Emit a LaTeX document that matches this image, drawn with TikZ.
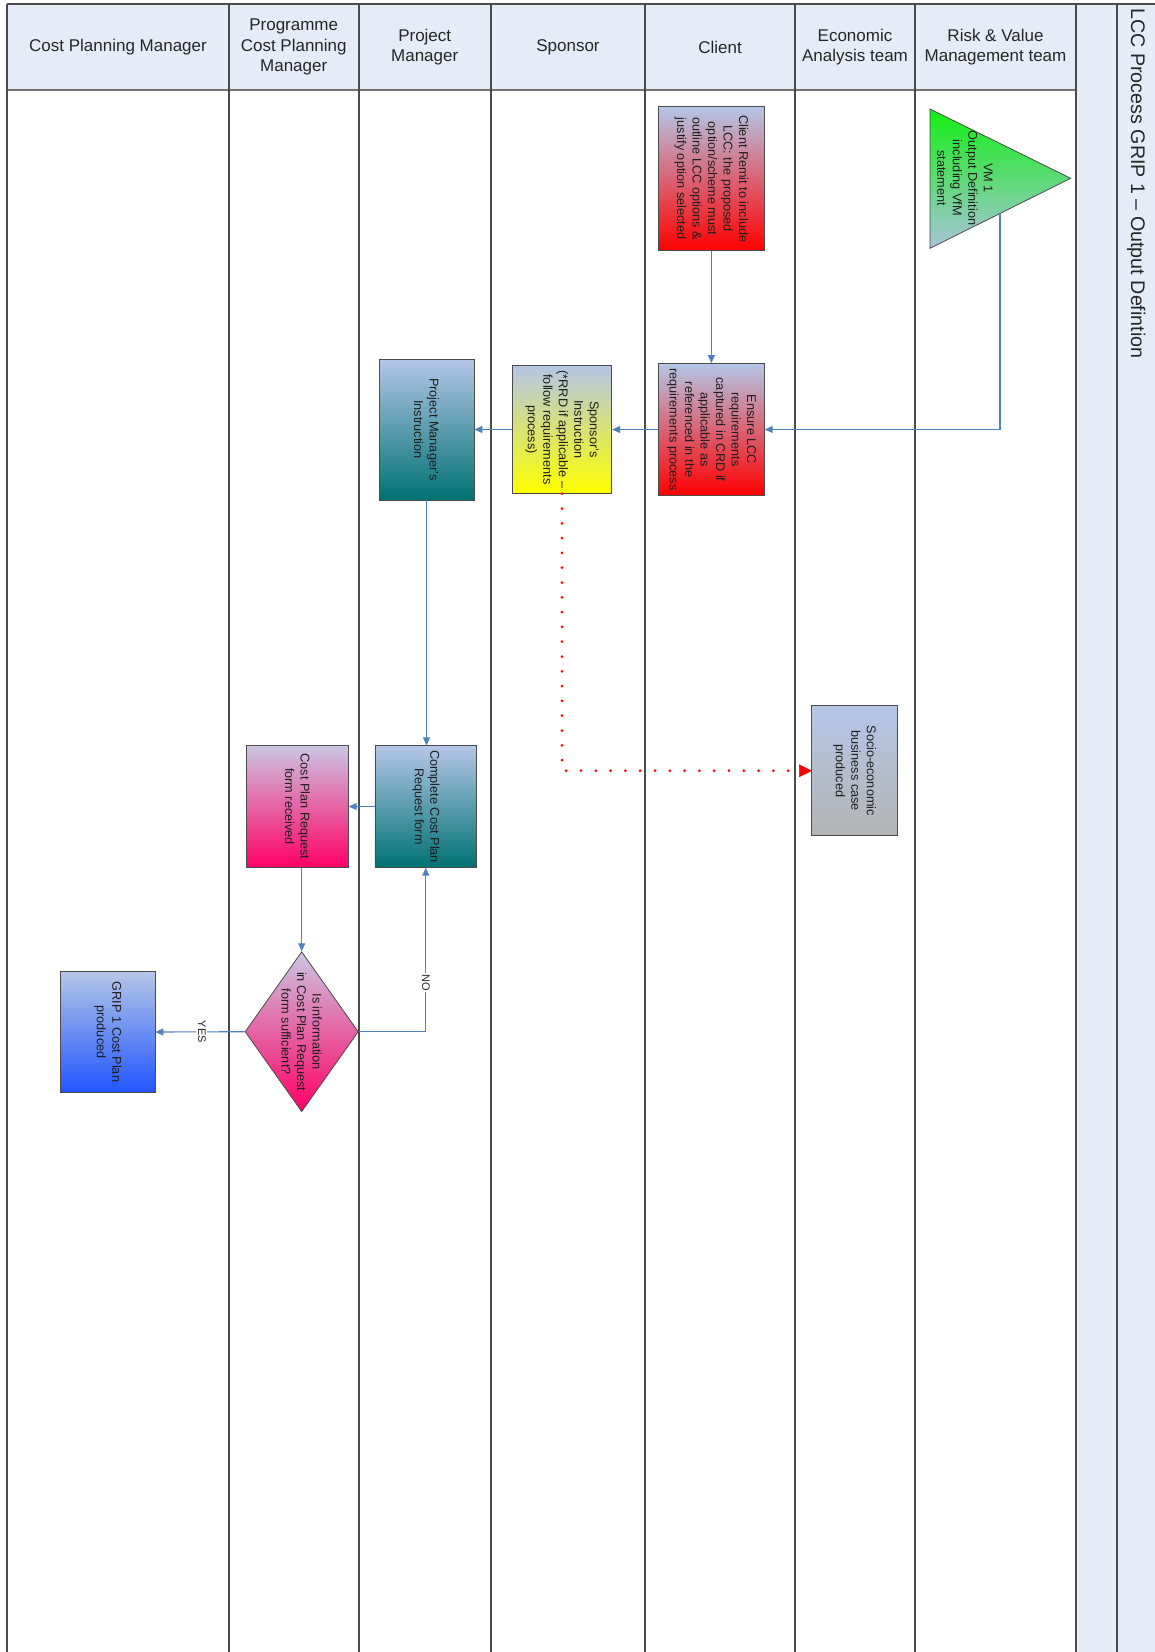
\documentclass[tikz,border=0pt]{standalone}
\usepackage{fontspec}
\setmainfont{Liberation Sans}
\usetikzlibrary{shapes.geometric,arrows.meta}
\definecolor{hdr}{HTML}{E6ECF7}
\definecolor{laneln}{HTML}{4A4A4A}
\definecolor{conn}{HTML}{4F81BD}
\definecolor{topc}{HTML}{B4C6E7}
\definecolor{teal}{HTML}{007272}
\definecolor{pinkc}{HTML}{FF0066}
\definecolor{bluec}{HTML}{2255FF}
\definecolor{greyc}{HTML}{B4B4B4}
\definecolor{txtc}{HTML}{1E1E1E}
\definecolor{vmtop}{HTML}{12F012}
\definecolor{vmbot}{HTML}{A8C4DA}
\begin{document}
\begin{tikzpicture}[x=1pt,y=-1pt,
  lline/.style={draw=laneln,line width=2pt},
  hline/.style={draw=black!55,line width=1.3pt},
  hd/.style={align=center,font=\fontsize{17}{20.5}\selectfont,text=black!85,inner sep=0pt},
  box/.style={draw=black!70,line width=0.8pt,inner sep=0pt},
  txt/.style={rotate=-90,align=center,font=\fontsize{12.7}{15.5}\selectfont,text=txtc,inner sep=0pt},
  flow/.style={draw=conn,line width=1.1pt,-{Triangle[length=8pt,width=7pt]}},
  lbl/.style={rotate=-90,fill=white,inner sep=1.5pt,font=\fontsize{11}{13}\selectfont,text=black!85},
  dots/.style={draw=red,line width=3pt,line cap=round,dash pattern=on 0pt off 14.8pt}
]
\useasboundingbox (0,0) rectangle (1155,1652);
\fill[white] (0,0) rectangle (1155,1652);
% header and side columns
\fill[hdr] (7,4) rectangle (1076,90);
\fill[hdr] (1076,4) rectangle (1155,1652);
\draw[hline] (7,90) -- (1076,90);
\draw[lline] (7,4) -- (1155,4);
\foreach \x in {7,229,358.5,491,645,795,915,1076,1117}
  \draw[lline] (\x,4) -- (\x,1652);
% header texts
\node[hd] (h1) at (118,47) {Cost Planning Manager};
\node[hd] (h2) at (293.7,47) {Programme\\Cost Planning\\Manager};
\node[hd] (h3) at (424.7,47) {Project\\Manager};
\node[hd] (h4) at (568,47) {Sponsor};
\node[hd] (h5) at (720,47) {Client};
\node[hd] (h6) at (855,47) {Economic\\Analysis team};
\node[hd] (h7) at (995.5,47) {Risk \& Value\\Management team};
\node[rotate=-90,anchor=base west,inner sep=0pt,font=\fontsize{19.7}{23}\selectfont,text=black!85] (title) at (1131,8) {LCC Process GRIP 1 – Output Defintion};
% VM triangle
\shadedraw[draw=black!70,line width=0.8pt,top color=vmtop,bottom color=vmbot] (930,109) -- (930,248.3) -- (1070.7,178.3) -- cycle;
\node[txt] (vm) at (965,178) {VM 1\\Output Definition\\including VfM\\statement};
\coordinate (vmout) at (1000,213.5);
% boxes
\node[box,minimum width=105.8pt,minimum height=144pt,top color=topc,bottom color=red] (cr) at (711.4,178.7) {};
\node[txt] (crt) at (cr.center) {Client Remit to include\\LCC: the proposed\\option/scheme must\\outline LCC options \&\\justify option selected};
\node[box,minimum width=105.6pt,minimum height=132pt,top color=topc,bottom color=red] (ens) at (711.5,429.5) {};
\node[txt] (enst) at (ens.center) {Ensure LCC\\requirements\\captured in CRD if\\applicable as\\referenced in the\\requirements process};
\node[box,minimum width=99.4pt,minimum height=127.6pt,top color=topc,bottom color=yellow] (sp) at (562,429.5) {};
\node[txt] (spt) at (sp.center) {Sponsor's\\Instruction\\(*RRD if applicable –\\follow requirements\\process)};
\node[box,minimum width=95pt,minimum height=141pt,top color=topc,bottom color=teal] (pmi) at (426.5,429.5) {};
\node[txt] (pmit) at (pmi.center) {Project Manager's\\Instruction};
\node[box,minimum width=101.7pt,minimum height=121.6pt,top color=topc,bottom color=teal] (ccp) at (425.8,806.5) {};
\node[txt] (ccpt) at (ccp.center) {Complete Cost Plan\\Request form};
\node[box,minimum width=101.6pt,minimum height=121.6pt,top color=topc!80!violet!60!white,bottom color=pinkc] (cpr) at (297.5,806.5) {};
\node[txt] (cprt) at (cpr.center) {Cost Plan Request\\form received};
\node[box,diamond,minimum width=113.3pt,minimum height=160pt,top color=topc!80!violet!60!white,bottom color=pinkc] (dec) at (301.7,1031.7) {};
\node[txt] (dect) at (dec.center) {Is information\\in Cost Plan Request\\form sufficient?};
\node[box,minimum width=94.3pt,minimum height=120.6pt,top color=topc,bottom color=bluec] (grip) at (107.8,1032) {};
\node[txt] (gript) at (grip.center) {GRIP 1 Cost Plan\\produced};
\node[box,minimum width=86pt,minimum height=130pt,top color=topc,bottom color=greyc] (soc) at (854.7,770.7) {};
\node[txt] (soct) at (soc.center) {Socio-economic\\business case\\produced};
% connectors
\draw[flow] (cr.south) -- (cr.south |- ens.north);
\draw[flow] (vmout) |- (ens.east);
\draw[flow] (ens.west) -- (sp.east);
\draw[flow] (sp.west) -- (pmi.east);
\draw[flow] (pmi.south) -- (pmi.south |- ccp.north);
\draw[flow] (ccp.west) -- (cpr.east);
\draw[flow] (dec.north |- cpr.south) -- (dec.north);
\draw[flow] (dec.east) -| node[lbl,pos=0.65] (no) {NO} (ccp.south);
\draw[flow] (dec.west) -- node[lbl,pos=0.48] (yes) {YES} (grip.east);
\draw[dots] (sp.south) |- ([xshift=-13pt]soc.west);
\draw[draw=red,fill=red,line width=0.5pt] (soc.west) -- ++(-12,-6) -- ++(0,12) -- cycle;
\end{tikzpicture}
\end{document}
